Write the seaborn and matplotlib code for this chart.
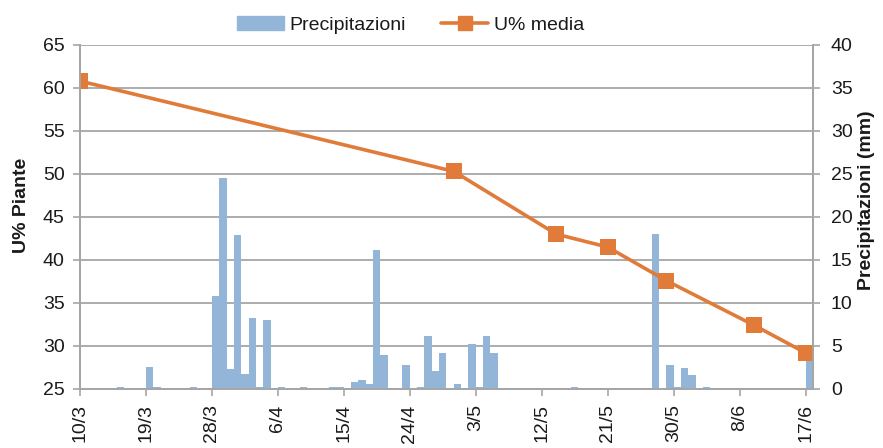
import pandas as pd
import numpy as np
import matplotlib
matplotlib.use('Agg')
import matplotlib.pyplot as plt
import seaborn as sns
from matplotlib.patches import Patch
from matplotlib.lines import Line2D

# dati
start = '10/3'
rain_dates = ['15/3', '19/3', '20/3', '25/3', '28/3', '29/3', '30/3', '31/3', '1/4', '2/4',
              '3/4', '4/4', '6/4', '9/4', '13/4', '14/4', '16/4', '17/4', '18/4', '19/4',
              '20/4', '23/4', '25/4', '26/4', '27/4', '28/4', '30/4', '2/5', '3/5', '4/5',
              '5/5', '16/5', '27/5', '29/5', '30/5', '31/5', '1/6', '3/6', '17/6']
rain_mm = [0.2, 2.6, 0.2, 0.2, 10.8, 24.5, 2.3, 17.9, 1.8, 8.2,
           0.2, 8.0, 0.2, 0.2, 0.2, 0.2, 0.8, 1.0, 0.6, 16.2,
           4.0, 2.8, 0.2, 6.2, 2.1, 4.2, 0.6, 5.2, 0.2, 6.2,
           4.2, 0.2, 18.0, 2.8, 0.2, 2.4, 1.6, 0.2, 3.9]
u_dates = ['10/3', '30/4', '14/5', '21/5', '29/5', '10/6', '17/6']
u_media = [60.8, 50.3, 43.0, 41.5, 37.6, 32.4, 29.2]
tick_labels = ['10/3', '19/3', '28/3', '6/4', '15/4', '24/4', '3/5',
               '12/5', '21/5', '30/5', '8/6', '17/6']


def day_index(d):
    t0 = pd.to_datetime(start + '/2014', format='%d/%m/%Y')
    return (pd.to_datetime(d + '/2014', format='%d/%m/%Y') - t0).days


bar_col = '#93b5d7'
line_col = '#e07b39'
grid_col = '#a6a6a6'
txt_col = '#1a1a1a'
fs = 14

df_rain = pd.DataFrame({'day': [day_index(d) + 0.5 for d in rain_dates], 'mm': rain_mm})
df_u = pd.DataFrame({'day': [day_index(d) for d in u_dates], 'u': u_media})

sns.set_style('white')
plt.rcParams['font.family'] = ['Liberation Sans', 'DejaVu Sans']
plt.rcParams['text.color'] = txt_col

fig = plt.figure(figsize=(8.83, 4.48), dpi=100)
ax1 = fig.add_axes([0.0906, 0.1317, 0.830, 0.768])
ax2 = ax1.twinx()

sns.barplot(data=df_rain, x='day', y='mm', native_scale=True, width=1.0,
            color=bar_col, saturation=1, ax=ax2, linewidth=0)
sns.lineplot(data=df_u, x='day', y='u', color=line_col, lw=2.6, marker='s',
             markersize=11, markeredgewidth=0, ax=ax1)

ax1.set_zorder(ax2.get_zorder() + 1)
ax1.patch.set_visible(False)

ax1.set_xlim(0, 100)
ax1.set_ylim(25, 65)
ax2.set_ylim(0, 40)
ax1.set_yticks(np.arange(25, 66, 5))
ax2.set_yticks(np.arange(0, 41, 5))
ax2.yaxis.grid(True, color=grid_col, lw=1.3)
ax2.set_axisbelow(True)

ticks = [day_index(t) for t in tick_labels]
ax1.set_xticks(ticks)
ax1.set_xticklabels(tick_labels, rotation=90)
ax1.tick_params(axis='y', labelsize=fs, length=5, color=grid_col, width=1.2, left=True,
                labelcolor=txt_col, pad=6)
ax2.tick_params(axis='y', labelsize=fs, length=5, color=grid_col, width=1.2, right=True,
                labelcolor=txt_col, pad=8)
ax1.tick_params(axis='x', labelsize=fs, length=5, color=grid_col, width=1.2, bottom=True,
                labelcolor=txt_col, pad=6)

ax1.set_xlabel('')
ax2.set_xlabel('')
ax1.set_ylabel('U% Piante', fontsize=fs, fontweight='bold', color=txt_col)
ax2.set_ylabel('Precipitazioni (mm)', fontsize=fs, fontweight='bold', color=txt_col)
ax1.yaxis.set_label_coords(-0.068, 0.535)
ax2.yaxis.set_label_coords(1.062, 0.55)

for a in (ax1, ax2):
    for s in ['left', 'right', 'bottom']:
        a.spines[s].set_color(grid_col)
        a.spines[s].set_linewidth(1.3)
    a.spines['top'].set_visible(False)

handles = [Patch(color=bar_col, label='Precipitazioni'),
           Line2D([0], [0], color=line_col, lw=2.6, marker='s', markersize=10, label='U% media')]
fig.legend(handles=handles, loc='center', bbox_to_anchor=(0.465, 0.944), ncol=2,
           frameon=False, fontsize=fs, handlelength=2.4, columnspacing=1.8, handletextpad=0.3)

fig.savefig('out.png', dpi=100)
